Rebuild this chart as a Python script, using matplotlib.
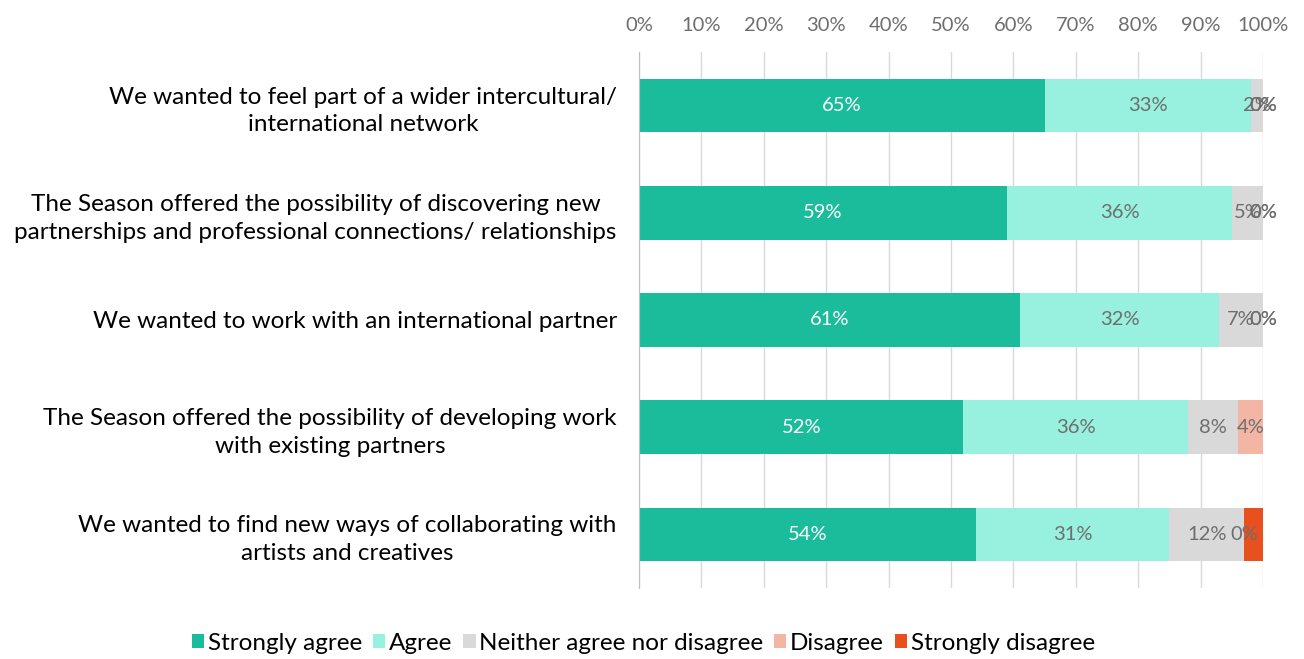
import numpy as np
import matplotlib.pyplot as plt

plt.rcParams['font.family'] = ['Lato', 'DejaVu Sans']

statements = [
    "We wanted to feel part of a wider intercultural/\ninternational network",
    "The Season offered the possibility of discovering new\npartnerships and professional connections/ relationships",
    "We wanted to work with an international partner",
    "The Season offered the possibility of developing work\nwith existing partners",
    "We wanted to find new ways of collaborating with\nartists and creatives",
]
series = ["Strongly agree", "Agree", "Neither agree nor disagree",
          "Disagree", "Strongly disagree"]

strongly_agree = [65, 59, 61, 52, 54]
agree = [33, 36, 32, 36, 31]
neither = [2, 5, 7, 8, 12]
disagree = [0, 0, 0, 4, 0]
strongly_disagree = [0, 0, 0, 0, 3]

# which segments carry a value label (zeros are shown on some rows only)
show_label = [
    [True, True, True, True, True],
    [True, True, True, True, True],
    [True, True, True, True, True],
    [True, True, True, True, False],
    [True, True, True, True, False],
]

colors = ["#1ABC9C", "#98F0DF", "#D9D9D9", "#F4B6A4", "#E8501E"]
label_colors = ["white", "#6E6E6E", "#6E6E6E", "#6E6E6E", "#6E6E6E"]

data = np.array([strongly_agree, agree, neither, disagree, strongly_disagree])
ypos = np.arange(len(statements))

fig = plt.figure(figsize=(13.04, 6.59), dpi=100)
ax = fig.add_axes([639 / 1304, 1 - 588 / 659, 624 / 1304, 536 / 659])

left = np.zeros(len(statements))
for k in range(len(series)):
    vals = data[k]
    ax.barh(ypos, vals, left=left, height=0.5, color=colors[k],
            label=series[k], zorder=3)
    for i, v in enumerate(vals):
        if show_label[i][k]:
            ax.text(left[i] + v / 2, ypos[i], f"{v}%", ha='center',
                    va='center', fontsize=14.5, color=label_colors[k], zorder=4)
    left += vals

ax.set_xlim(0, 100)
ax.set_ylim(len(statements) - 0.5, -0.5)
ax.set_xticks(np.arange(0, 101, 10))
ax.set_xticklabels([f"{t}%" for t in range(0, 101, 10)])
ax.xaxis.tick_top()
ax.tick_params(axis='x', length=0, pad=13, labelsize=14.5, labelcolor='#6E6E6E')
ax.set_yticks(ypos)
ax.set_yticklabels(statements, fontsize=17.5)
ax.tick_params(axis='y', length=0, pad=16)
for lbl in ax.get_yticklabels():
    lbl.set_horizontalalignment('right')
    lbl.set_multialignment('center')
    lbl.set_linespacing(1.4)

ax.grid(axis='x', color='#D9D9D9', linewidth=1, zorder=0)
for s in ['top', 'right', 'bottom']:
    ax.spines[s].set_visible(False)
ax.spines['left'].set_color('#BFBFBF')
ax.spines['left'].set_zorder(5)

fig.legend(loc='center', bbox_to_anchor=(0.4935, 1 - 643 / 659), ncol=5,
           frameon=False, fontsize=17.5, handlelength=0.5, handleheight=0.5,
           handletextpad=0.15, columnspacing=0.45)

fig.savefig("out.png", dpi=100)
